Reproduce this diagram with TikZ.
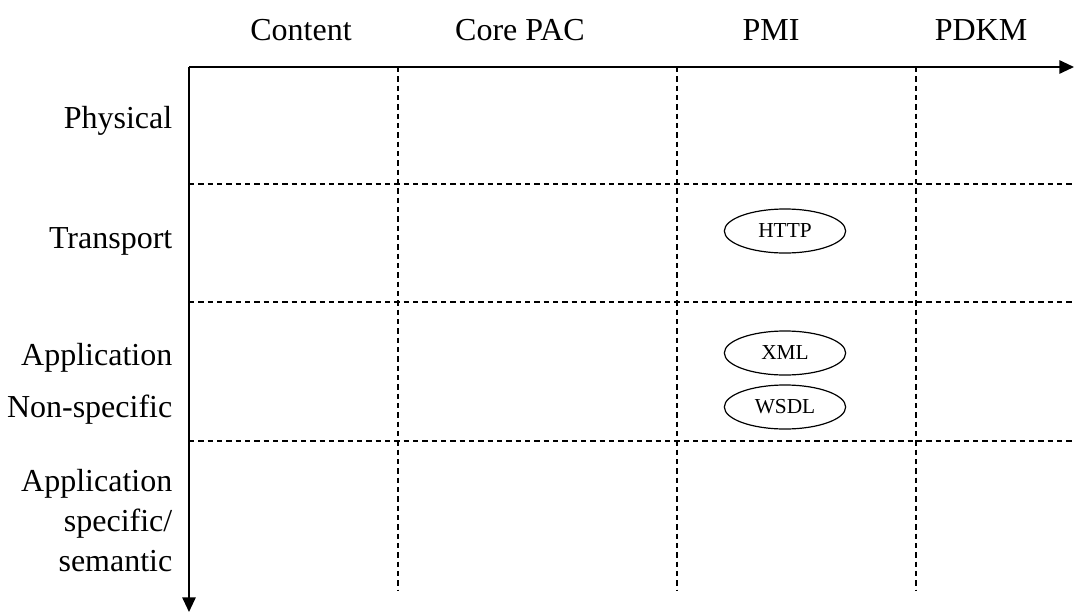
\documentclass[tikz,border=0pt]{standalone}
\usepackage{fontspec}
\setmainfont{Liberation Serif}
\usetikzlibrary{arrows.meta,shapes.geometric}

\tikzset{
  axisline/.style={line width=1.4pt,-{Triangle[length=11pt,width=10pt]}},
  gridline/.style={line width=0.8pt,dash pattern=on 4pt off 3pt},
  collabel/.style={font=\fontsize{24}{28}\selectfont},
  rowlabel/.style={font=\fontsize{24}{30}\selectfont,anchor=east,align=right},
  protocol/.style={draw,ellipse,line width=0.9pt,minimum width=91pt,minimum height=33pt,inner sep=0pt,font=\fontsize{16}{18}\selectfont}
}

\begin{document}
\begin{tikzpicture}[x=0.75pt,y=0.75pt,yscale=-1,xscale=1]
\useasboundingbox (0,0) rectangle (1074,614);

%Axes corner and ends
\coordinate (origin) at (189,67);
\coordinate (xend) at (1074,67);
\coordinate (yend) at (189,612);

%Dashed column separators
\foreach \cx [count=\i] in {398,677,916}{
  \coordinate (ctop\i) at (\cx,67);
  \coordinate (cbot\i) at (\cx,590);
  \draw [gridline] (ctop\i) -- (cbot\i);
}
%Dashed row separators
\foreach \ry [count=\i] in {184,302,441}{
  \coordinate (rleft\i) at (189,\ry);
  \coordinate (rright\i) at (1074,\ry);
  \draw [gridline] (rleft\i) -- (rright\i);
}

%Axes
\draw [axisline] (origin) -- (xend);
\draw [axisline] (origin) -- (yend);

% Column headers
\node [collabel] (content) at (301,30) {Content};
\node [collabel] (corepac) at (520,30) {Core PAC};
\node [collabel] (pmi) at (771,30) {PMI};
\node [collabel] (pdkm) at (981,30) {PDKM};

% Row headers
\node [rowlabel] (physical) at (177,121) {Physical};
\node [rowlabel] (transport) at (177,241) {Transport};
\node [rowlabel] (application) at (177,358) {Application};
\node [rowlabel] (nonspecific) at (177,410) {Non-specific};
\node [rowlabel] (specific) at (177,521) {Application\\specific/\\semantic};

% Protocols in the PMI column
\node [protocol] (http) at (785,231) {HTTP};
\node [protocol] (xml) at (785,353) {XML};
\node [protocol] (wsdl) at (785,407) {WSDL};

\end{tikzpicture}
\end{document}
